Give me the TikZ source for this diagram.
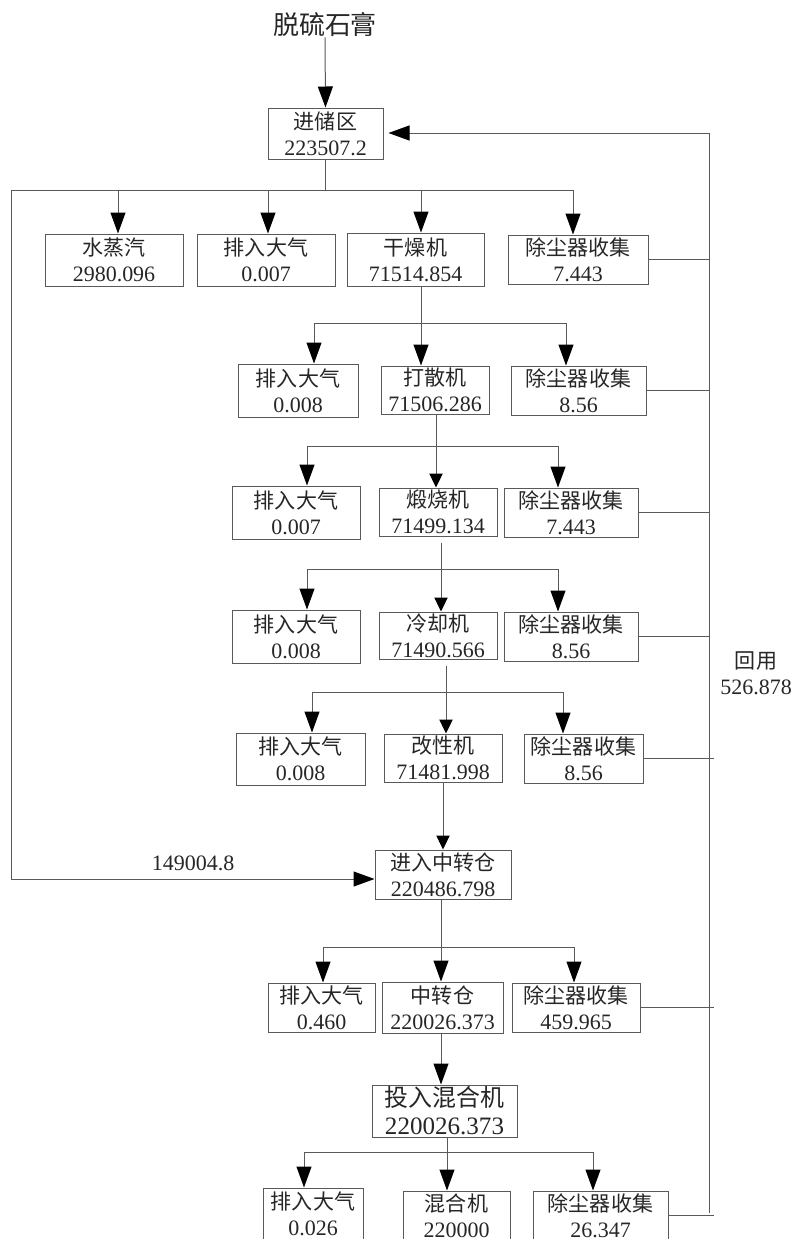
\documentclass[tikz,border=0pt]{standalone}
\usepackage{fontspec}
\setmainfont{Liberation Serif}
\newfontfamily\cjk[Scale=0.955]{Noto Sans CJK SC}
\usetikzlibrary{arrows.meta}
\tikzset{
  box/.style={draw=black!65, line width=0.75pt, inner sep=0pt, align=center, text=black!85, font=\fontsize{16.5}{19.5}\selectfont},
  ln/.style={draw=black!65, line width=0.75pt},
  arr/.style={ln, -{Triangle[length=15.75pt,width=11.25pt,color=black]}},
  sarr/.style={ln, -{Triangle[length=10.5pt,width=10pt,color=black]}},
  lbl/.style={inner sep=0pt, align=center, text=black!85, font=\fontsize{16.5}{19.5}\selectfont},
}
\newcommand\mkbox[6]{\node[box, minimum width={(#4-#2)*0.75pt}, minimum height={(#5-#3)*0.75pt}] (#1) at ({(#2+#4)/2},{(#3+#5)/2}) {#6};}
\begin{document}
\begin{tikzpicture}[x=0.75pt,y=-0.75pt]
\useasboundingbox (0,0) rectangle (795,1240);
\clip (0,0) rectangle (795,1238.5);
% title
\node[lbl, font=\fontsize{20.4}{23}\selectfont] (title) at (325,25) {\cjk 脱硫石膏};
% boxes
\mkbox{A}{268}{108}{383}{159}{{\cjk 进储区}\\223507.2}
\mkbox{r1a}{45}{234}{183}{286}{{\cjk 水蒸汽}\\2980.096}
\mkbox{r1b}{197}{234}{335}{286}{{\cjk 排入大气}\\0.007}
\mkbox{r1c}{347}{233}{484}{286}{{\cjk 干燥机}\\71514.854}
\mkbox{r1d}{508}{235}{648}{284}{{\cjk 除尘器收集}\\7.443}
\mkbox{r2a}{238}{364}{358}{417}{{\cjk 排入大气}\\0.008}
\mkbox{r2b}{381}{366}{489}{414}{{\cjk 打散机}\\71506.286}
\mkbox{r2c}{511}{366}{646}{415}{{\cjk 除尘器收集}\\8.56}
\mkbox{r3a}{232}{486}{360}{539}{{\cjk 排入大气}\\0.007}
\mkbox{r3b}{379}{488}{497}{536}{{\cjk 煅烧机}\\71499.134}
\mkbox{r3c}{504}{488}{638}{537}{{\cjk 除尘器收集}\\7.443}
\mkbox{r4a}{232}{610}{360}{663}{{\cjk 排入大气}\\0.008}
\mkbox{r4b}{379}{612}{497}{659}{{\cjk 冷却机}\\71490.566}
\mkbox{r4c}{504}{612}{638}{661}{{\cjk 除尘器收集}\\8.56}
\mkbox{r5a}{236}{733}{365}{785}{{\cjk 排入大气}\\0.008}
\mkbox{r5b}{384}{734}{502}{782}{{\cjk 改性机}\\71481.998}
\mkbox{r5c}{524}{734}{643}{783}{{\cjk 除尘器收集}\\8.56}
\mkbox{B}{375}{850}{511}{899}{{\cjk 进入中转仓}\\220486.798}
\mkbox{r6a}{268}{983}{375}{1032}{{\cjk 排入大气}\\0.460}
\mkbox{r6b}{382}{982}{503}{1033}{{\cjk 中转仓}\\220026.373}
\mkbox{r6c}{512}{983}{640}{1032}{{\cjk 除尘器收集}\\459.965}
\node[box, font=\fontsize{18.8}{21}\selectfont, minimum width={145*0.75pt}, minimum height={52*0.75pt}] (C) at (444.5,1111) {{\cjk 投入混合机}\\220026.373};
\mkbox{r8a}{263}{1188}{363}{1240}{{\cjk 排入大气}\\0.026}
\mkbox{r8b}{403}{1191}{510}{1240}{{\cjk 混合机}\\220000}
\mkbox{r8c}{533}{1191}{668}{1240}{{\cjk 除尘器收集}\\26.347}
% labels
\node[lbl] (lab1) at (193,863) {149004.8};
\node[lbl] (reuse) at (756,673) {{\cjk 回用}\\526.878};
% coordinates
\coordinate (b1L) at (11,190); \coordinate (b1R) at (573,190);
\coordinate (d11) at (118,190); \coordinate (d12) at (268,190); \coordinate (d13) at (421,190);
\coordinate (t2) at (421,323); \coordinate (b2L) at (314,323); \coordinate (b2R) at (566,323);
\coordinate (t3) at (436,446); \coordinate (b3L) at (307,446); \coordinate (b3R) at (558,446);
\coordinate (t4) at (441,569); \coordinate (b4L) at (307,569); \coordinate (b4R) at (558,569);
\coordinate (t5) at (446,692); \coordinate (b5L) at (312,692); \coordinate (b5R) at (563,692);
\coordinate (tB) at (443,0);
\coordinate (t7) at (441,947); \coordinate (b7L) at (323,947); \coordinate (b7R) at (574,947);
\coordinate (tC) at (441,0);
\coordinate (t8) at (447,1152); \coordinate (b8L) at (304,1152); \coordinate (b8R) at (593,1152);
\coordinate (lb) at (11,879);
\coordinate (rt) at (709,133); \coordinate (rb) at (709,1213); \coordinate (ov) at (714,0);
% title arrow
\draw[arr] (title.south) -- (A.north);
% row 1
\draw[ln] (A.south) -- (A.south |- b1L);
\draw[ln] (b1L) -- (b1R);
\draw[arr] (d11) -- (d11 |- r1a.north);
\draw[arr] (d12) -- (d12 |- r1b.north);
\draw[arr] (d13) -- (d13 |- r1c.north);
\draw[arr] (b1R) -- (b1R |- r1d.north);
% row 2
\draw[ln] (t2 |- r1c.south) -- (t2);
\draw[ln] (b2L) -- (b2R);
\draw[arr] (b2L) -- (b2L |- r2a.north);
\draw[arr] (t2) -- (t2 |- r2b.north);
\draw[arr] (b2R) -- (b2R |- r2c.north);
% row 3
\draw[ln] (t3 |- r2b.south) -- (t3);
\draw[ln] (b3L) -- (b3R);
\draw[arr] (b3L) -- (b3L |- r3a.north);
\draw[sarr] (t3) -- (t3 |- r3b.north);
\draw[arr] (b3R) -- (b3R |- r3c.north);
% row 4
\draw[ln, shorten <=4.5pt] (t4 |- r3b.south) -- (t4);
\draw[ln] (b4L) -- (b4R);
\draw[arr] (b4L) -- (b4L |- r4a.north);
\draw[sarr] (t4) -- (t4 |- r4b.north);
\draw[arr] (b4R) -- (b4R |- r4c.north);
% row 5
\draw[ln, shorten <=4.5pt] (t5 |- r4b.south) -- (t5);
\draw[ln] (b5L) -- (b5R);
\draw[arr] (b5L) -- (b5L |- r5a.north);
\draw[sarr] (t5) -- (t5 |- r5b.north);
\draw[arr] (b5R) -- (b5R |- r5c.north);
% into B
\draw[sarr] (tB |- r5b.south) -- (tB |- B.north);
\draw[arr] (b1L) -- (lb) -- (lb -| B.west);
% row 6
\draw[ln] (t7 |- B.south) -- (t7);
\draw[ln] (b7L) -- (b7R);
\draw[arr] (b7L) -- (b7L |- r6a.north);
\draw[arr] (t7) -- (t7 |- r6b.north);
\draw[arr] (b7R) -- (b7R |- r6c.north);
% into C
\draw[arr] (tC |- r6b.south) -- (tC |- C.north);
% row 8
\draw[ln] (t8 |- C.south) -- (t8);
\draw[ln] (b8L) -- (b8R);
\draw[arr] (b8L) -- (b8L |- r8a.north);
\draw[arr] (t8) -- (t8 |- r8b.north);
\draw[arr] (b8R) -- (b8R |- r8c.north);
% return line
\draw[arr, shorten >=3.75pt] (rb) -- (rt) -- (rt -| A.east);
\draw[ln] (r1d.east) -- (r1d.east -| rt);
\draw[ln] (r2c.east) -- (r2c.east -| rt);
\draw[ln] (r3c.east) -- (r3c.east -| rt);
\draw[ln] (r4c.east) -- (r4c.east -| rt);
\draw[ln] (r5c.east) -- (r5c.east -| ov);
\draw[ln] (r6c.east) -- (r6c.east -| ov);
\draw[ln] (r8c.east) -- (r8c.east -| ov);
\end{tikzpicture}
\end{document}
